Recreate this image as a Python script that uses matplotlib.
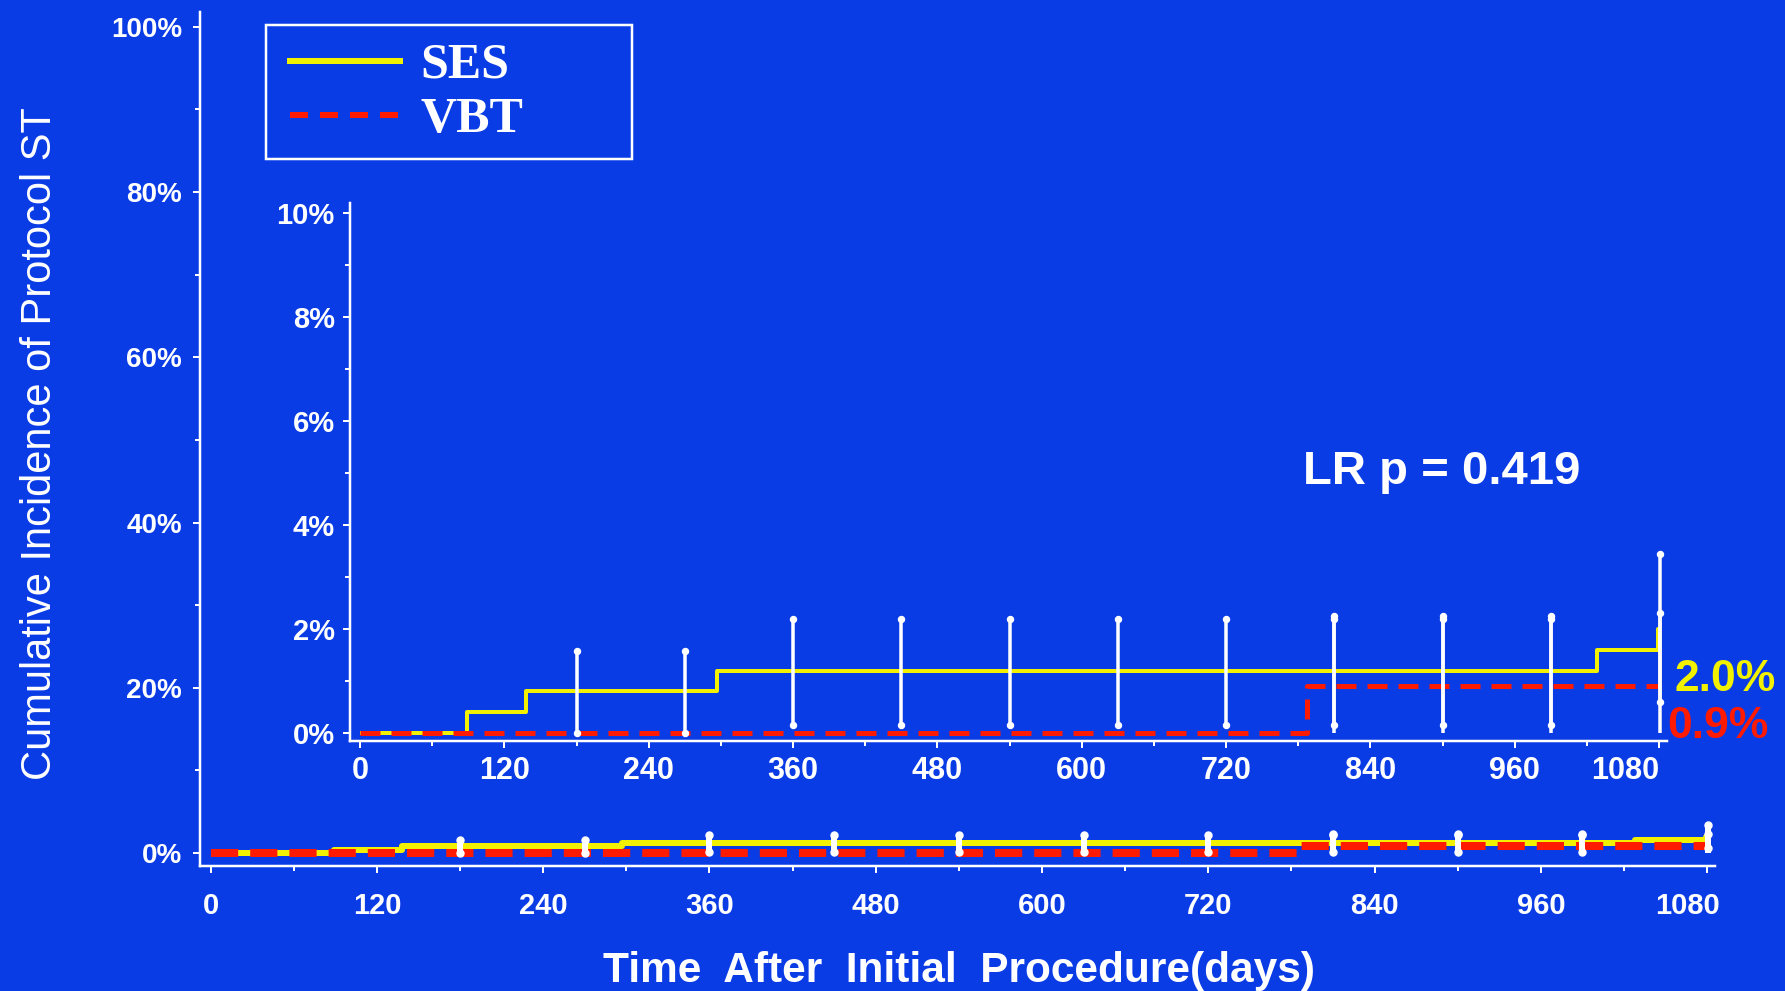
import matplotlib
matplotlib.use("Agg")
import matplotlib.pyplot as plt
from matplotlib import font_manager
from matplotlib.lines import Line2D
from matplotlib.patches import Rectangle
from matplotlib.transforms import ScaledTranslation

# ---------------- data ----------------
ses_time = [0, 89, 138, 297, 1028, 1079, 1081]
ses_value = [0.0, 0.4, 0.8, 1.2, 1.6, 2.0, 2.0]
vbt_time = [0, 787, 1081]
vbt_value = [0.0, 0.9, 0.9]

ci_time = [180, 270, 360, 450, 540, 630, 720, 810, 900, 990, 1081]
ses_ci_lo = [0.0, 0.0, 0.15, 0.15, 0.15, 0.15, 0.15, 0.15, 0.15, 0.15, 0.6]
ses_ci_hi = [1.58, 1.58, 2.19, 2.19, 2.19, 2.19, 2.19, 2.19, 2.19, 2.19, 3.44]
vbt_ci_time = [810, 900, 990, 1081]
vbt_ci_lo = [0.0, 0.0, 0.0, 0.0]
vbt_ci_hi = [2.25, 2.25, 2.25, 2.3]

legend_labels = ["SES", "VBT"]
x_ticks = [0, 120, 240, 360, 480, 600, 720, 840, 960, 1080]
x_minor = [60, 180, 300, 420, 540, 660, 780, 900, 1020]
main_y_ticks = [0, 20, 40, 60, 80, 100]
main_y_minor = [10, 30, 50, 70, 90]
inset_y_ticks = [0, 2, 4, 6, 8, 10]
inset_y_minor = [1, 3, 5, 7, 9]
final_ses_label = "2.0%"
final_vbt_label = "0.9%"
pvalue_text = "LR p = 0.419"
x_title = "Time  After  Initial  Procedure(days)"
y_title = "Cumulative Incidence of Protocol ST"

# ---------------- style ----------------
BG = "#0A3CE6"
YEL = "#F2F200"
RED = "#FF1A00"
WHITE = "white"

names = {f.name for f in font_manager.fontManager.ttflist}
NARROW = "Liberation Sans Narrow" if "Liberation Sans Narrow" in names else "Liberation Sans"
SANS = "Liberation Sans" if "Liberation Sans" in names else "DejaVu Sans"
SERIF = "Liberation Serif" if "Liberation Serif" in names else "DejaVu Serif"

plt.rcParams["font.family"] = [SANS, "DejaVu Sans"]

W, H = 1785, 991
fig = plt.figure(figsize=(W / 100, H / 100), dpi=100, facecolor=BG)


def fx(px):
    return px / W


def fy(py):
    return 1 - py / H


PX = 72 / 100  # points per pixel


def style_axes(ax, xsize, ysize, pad_x, pad_y):
    ax.set_facecolor("none")
    for s in ["top", "right"]:
        ax.spines[s].set_visible(False)
    for s in ["left", "bottom"]:
        ax.spines[s].set_color(WHITE)
        ax.spines[s].set_linewidth(2.5 * PX)
    ax.tick_params(which="both", colors=WHITE, direction="out", width=2 * PX)
    ax.tick_params(which="major", length=7 * PX)
    ax.tick_params(which="minor", length=5 * PX)
    ax.tick_params(axis="x", pad=pad_x)
    ax.tick_params(axis="y", pad=pad_y)
    for lab in ax.get_xticklabels():
        lab.set_fontfamily(NARROW)
        lab.set_fontweight("bold")
        lab.set_fontsize(xsize)
        lab.set_color(WHITE)
    for lab in ax.get_yticklabels():
        lab.set_fontfamily(NARROW)
        lab.set_fontweight("bold")
        lab.set_fontsize(ysize)
        lab.set_color(WHITE)


def draw_km(ax, lw_ses, lw_vbt, dash, bar_lw, cap_ms):
    ax.vlines(ci_time, ses_ci_lo, ses_ci_hi, colors=WHITE, lw=bar_lw, zorder=4)
    ax.plot(ci_time, ses_ci_hi, "o", color=WHITE, ms=cap_ms, zorder=4)
    ax.plot(ci_time, ses_ci_lo, "o", color=WHITE, ms=cap_ms, zorder=4)
    ax.vlines(vbt_ci_time, vbt_ci_lo, vbt_ci_hi, colors=WHITE, lw=bar_lw, zorder=4)
    ax.plot(vbt_ci_time, vbt_ci_hi, "o", color=WHITE, ms=cap_ms, zorder=4)
    l1, = ax.plot(ses_time, ses_value, drawstyle="steps-post", color=YEL,
                  lw=lw_ses, zorder=3, solid_capstyle="butt")
    l2, = ax.plot(vbt_time, vbt_value, drawstyle="steps-post", color=RED,
                  lw=lw_vbt, zorder=3.5, dashes=dash, dash_capstyle="butt")
    return l1, l2


# ---------------- main axes ----------------
ax = fig.add_axes([fx(200), fy(866), fx(1715) - fx(200), fy(12) - fy(866)])
ax.set_xlim(-7.7, 1085.7)
ax.set_ylim(-1.57, 101.8)
draw_km(ax, 6 * PX, 8 * PX, (3.4, 1.5), 6 * PX, 7 * PX)
ax.set_xticks(x_ticks)
ax.set_xticks(x_minor, minor=True)
ax.set_xticklabels([str(v) for v in x_ticks])
ax.set_yticks(main_y_ticks)
ax.set_yticks(main_y_minor, minor=True)
ax.set_yticklabels([f"{v}%" for v in main_y_ticks])
style_axes(ax, 21, 20, 14, 8)
lab = ax.get_xticklabels()[-1]
lab.set_transform(lab.get_transform() + ScaledTranslation(-20 / 100, 0, fig.dpi_scale_trans))

# ---------------- inset axes ----------------
ax2 = fig.add_axes([fx(350), fy(741), fx(1667) - fx(350), fy(203) - fy(741)])
ax2.set_xlim(-8.3, 1086.5)
ax2.set_ylim(-0.154, 10.19)
ses_line, vbt_line = draw_km(ax2, 4 * PX, 5 * PX, (4.0, 2.2), 3.5 * PX, 6 * PX)
ax2.set_xticks(x_ticks)
ax2.set_xticks(x_minor, minor=True)
ax2.set_xticklabels([str(v) for v in x_ticks])
ax2.set_yticks(inset_y_ticks)
ax2.set_yticks(inset_y_minor, minor=True)
ax2.set_yticklabels([f"{v}%" for v in inset_y_ticks])
style_axes(ax2, 22, 21, 6, 6)
lab = ax2.get_xticklabels()[-1]
lab.set_transform(lab.get_transform() + ScaledTranslation(-34 / 100, 0, fig.dpi_scale_trans))

ax2.text(784, 5.02, pvalue_text, color=WHITE, fontsize=34, fontweight="bold",
         ha="left", va="center", family=SANS)
ax2.text(1093, 1.02, final_ses_label, color=YEL, fontsize=32, fontweight="bold",
         ha="left", va="center", family=SANS, clip_on=False)
ax2.text(1087, 0.13, final_vbt_label, color=RED, fontsize=32, fontweight="bold",
         ha="left", va="center", family=SANS, clip_on=False)

# ---------------- legend ----------------
fig.patches.append(Rectangle((fx(266), fy(159)), fx(632) - fx(266), fy(25) - fy(159),
                             transform=fig.transFigure, facecolor="none",
                             edgecolor=WHITE, lw=2.5 * PX, zorder=5))
leg_ses = Line2D([], [], color=YEL, lw=6 * PX)
leg_vbt = Line2D([], [], color=RED, lw=6 * PX, dashes=(3.0, 2.0))
leg = ax.legend([leg_ses, leg_vbt], legend_labels, loc="center left",
                bbox_to_anchor=(fx(290), fy(93)), bbox_transform=fig.transFigure,
                frameon=False, borderpad=0, borderaxespad=0, labelspacing=0.16,
                handlelength=2.2, handletextpad=0.4,
                prop={"family": SERIF, "weight": "bold", "size": 36})
for t in leg.get_texts():
    t.set_color(WHITE)

# ---------------- axis titles ----------------
fig.text(fx(40), fy(444), y_title, rotation=90, ha="center", va="center",
         color=WHITE, fontsize=30, family=NARROW)
fig.text(fx(959), fy(971), x_title, ha="center", va="center",
         color=WHITE, fontsize=30.5, fontweight="bold", family=NARROW)

fig.savefig("out.png", dpi=100, facecolor=BG)
